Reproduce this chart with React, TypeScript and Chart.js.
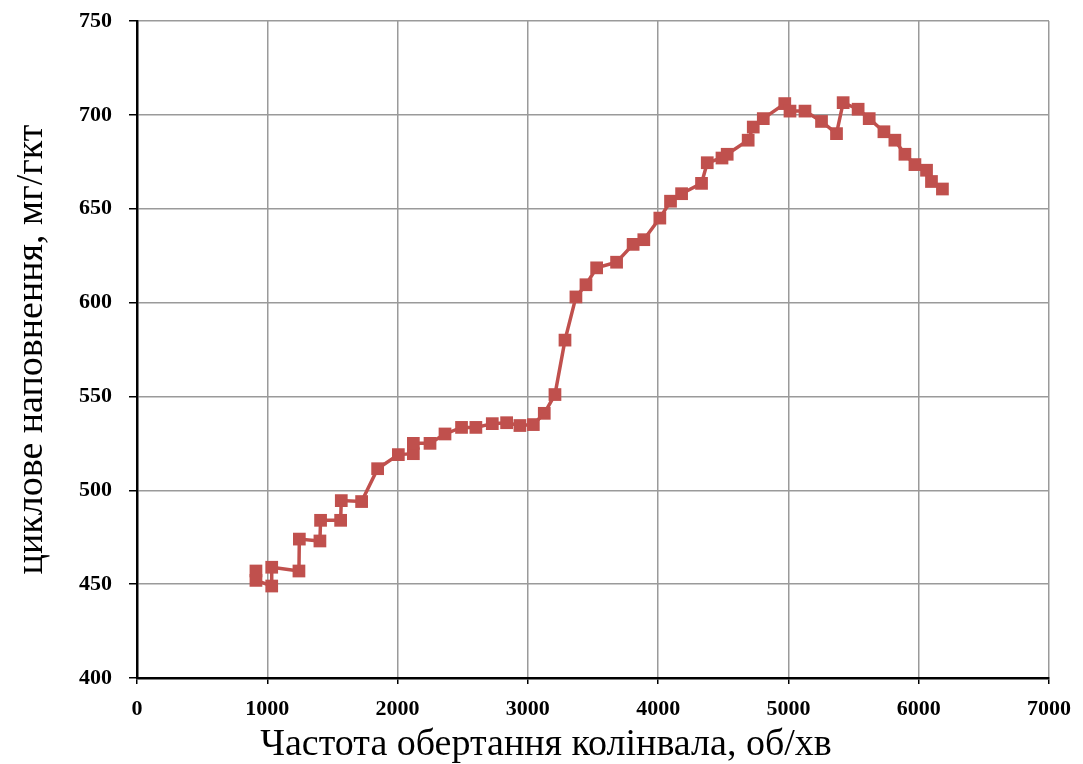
import React, { useEffect, useRef } from "react";
import { Chart, registerables } from "chart.js";

Chart.register(...registerables);

const rpm = [913, 913, 1034, 1034, 1243, 1246, 1404, 1409, 1563, 1568, 1724, 1847, 2006, 2121, 2121, 2249, 2364, 2491, 2601, 2727, 2837, 2939, 3042, 3126, 3208, 3285, 3369, 3446, 3528, 3681, 3808, 3890, 4013, 4095, 4180, 4333, 4377, 4490, 4530, 4691, 4730, 4807, 4972, 5012, 5127, 5254, 5369, 5420, 5535, 5620, 5733, 5817, 5894, 5971, 6060, 6098, 6182];
const filling = [457, 452, 449, 459, 457, 474, 473, 484, 484, 494.5, 494, 511.5, 519, 519.5, 525, 525, 530, 533.5, 533.5, 535.5, 536, 534.5, 535, 541, 551, 580, 603, 609.5, 618.5, 621.5, 631, 633.5, 645, 654, 658, 663.5, 674.5, 677, 679, 686.5, 693.5, 698, 706, 702, 702, 696.5, 690, 706.5, 703, 698, 691, 686.5, 679, 673.5, 670.5, 664.5, 660.5];

const xTitle = "Частота обертання колінвала, об/хв";
const yTitle = "циклове наповнення, мг/гкт";

export default function App() {
  const ref = useRef<HTMLCanvasElement | null>(null);
  useEffect(() => {
    document.body.style.margin = "0";
    const points = rpm.map((x, i) => ({ x, y: filling[i] }));
    const tickFont = { family: "'Liberation Serif', 'Times New Roman', serif", size: 22, weight: "bold" as const };
    const titleFont = { family: "'Liberation Serif', 'Times New Roman', serif", size: 38, weight: "normal" as const, lineHeight: 1.0 };
    const chart = new Chart(ref.current!, {
      type: "scatter",
      data: {
        datasets: [
          {
            data: points,
            showLine: true,
            borderColor: "#c0504d",
            backgroundColor: "#c0504d",
            borderWidth: 3.5,
            pointStyle: "rect",
            pointRadius: 9,
            pointBorderWidth: 0,
            tension: 0,
          },
        ],
      },
      options: {
        responsive: false,
        animation: false,
        layout: { padding: { top: 21, right: 0, left: 9, bottom: 0 } },
        plugins: {
          legend: { display: false },
          tooltip: { enabled: false },
          title: {
            display: true,
            text: xTitle,
            position: "bottom",
            color: "#000",
            font: titleFont,
            padding: { top: 0, bottom: 0 },
          },
        },
        scales: {
          x: {
            type: "linear",
            min: 0,
            max: 7000,
            afterFit: (s: any) => { s.height = 48; s.paddingRight = 34; s.paddingLeft = 0; },
            ticks: { stepSize: 1000, color: "#000", font: tickFont, padding: 12, maxRotation: 0, callback: (v: any) => String(v) },
            grid: { color: "#9a9a9a", lineWidth: 1.5, tickLength: 6, tickColor: "#000" },
            border: { color: "#000", width: 2.5 },
          },
          y: {
            type: "linear",
            min: 400,
            max: 750,
            afterFit: (s: any) => { s.width = 128; s.paddingTop = 0; s.paddingBottom = 0; },
            ticks: { stepSize: 50, color: "#000", font: tickFont, padding: 17, callback: (v: any) => String(v) },
            grid: { color: "#9a9a9a", lineWidth: 1.5, tickLength: 8, tickColor: "#000" },
            border: { color: "#000", width: 2.5 },
            title: { display: true, text: yTitle, color: "#000", font: titleFont, padding: { top: 4, bottom: 0 } },
          },
        },
      },
    });
    return () => chart.destroy();
  }, []);
  return (
    <div style={{ position: "absolute", left: 0, top: 0, width: 1083, height: 764, background: "#fff" }}>
      <canvas ref={ref} width={1083} height={764} style={{ width: 1083, height: 764 }} />
    </div>
  );
}
